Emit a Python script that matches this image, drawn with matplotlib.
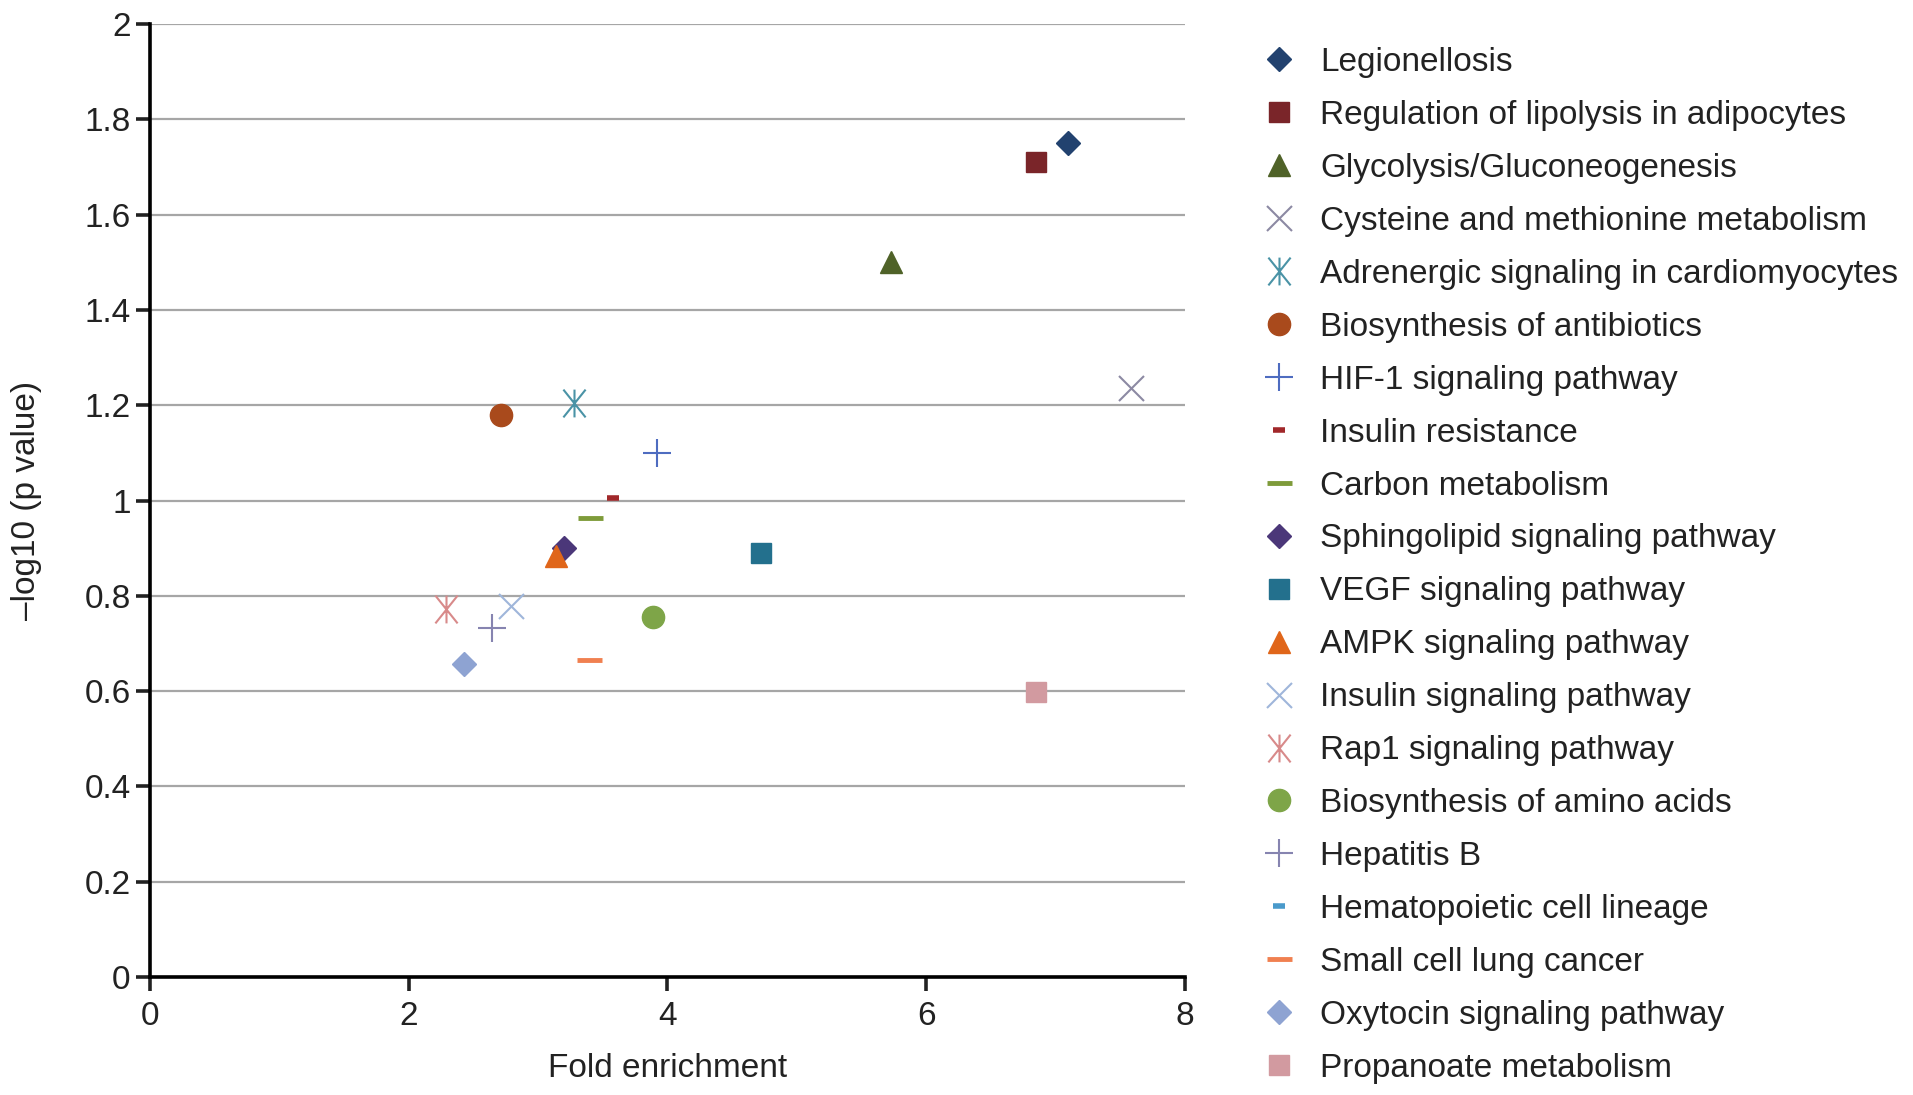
import numpy as np
import matplotlib
matplotlib.use("Agg")
import matplotlib.pyplot as plt
from matplotlib.path import Path
from matplotlib.ticker import FuncFormatter

plt.rcParams['font.family'] = ['Liberation Sans', 'DejaVu Sans']

# pathway names, in legend order
pathways = [
    "Legionellosis",
    "Regulation of lipolysis in adipocytes",
    "Glycolysis/Gluconeogenesis",
    "Cysteine and methionine metabolism",
    "Adrenergic signaling in cardiomyocytes",
    "Biosynthesis of antibiotics",
    "HIF-1 signaling pathway",
    "Insulin resistance",
    "Carbon metabolism",
    "Sphingolipid signaling pathway",
    "VEGF signaling pathway",
    "AMPK signaling pathway",
    "Insulin signaling pathway",
    "Rap1 signaling pathway",
    "Biosynthesis of amino acids",
    "Hepatitis B",
    "Hematopoietic cell lineage",
    "Small cell lung cancer",
    "Oxytocin signaling pathway",
    "Propanoate metabolism",
]
fold_enrichment = [7.10, 6.85, 5.73, 7.58, 3.28, 2.71, 3.92, 3.58, 3.40, 3.20,
                   4.72, 3.14, 2.79, 2.29, 3.89, 2.64, 2.43, 3.39, 2.43, 6.85]
neg_log_p = [1.75, 1.71, 1.50, 1.237, 1.204, 1.18, 1.10, 1.006, 0.963, 0.90,
             0.89, 0.883, 0.778, 0.773, 0.755, 0.732, 0.656, 0.666, 0.656, 0.599]

# x with a vertical stroke, like the office "asterisk" marker
asterisk = Path([(-0.8, -1), (0.8, 1), (-0.8, 1), (0.8, -1), (0, -1), (0, 1)],
                [Path.MOVETO, Path.LINETO] * 3)

# (marker, colour, size, edge width, filled)
styles = [
    ("D", "#22426f", 12, 1, True),
    ("s", "#7a2529", 15, 1, True),
    ("^", "#4f6228", 16, 1, True),
    ("x", "#8c89a3", 18, 1.5, False),
    (asterisk, "#4a93a6", 20, 1.5, False),
    ("o", "#a94a1c", 16, 1, True),
    ("+", "#4e6cc0", 20, 1.5, False),
    ("_", "#a1282a", 9, 4, False),
    ("_", "#7e9b3a", 18, 3.5, False),
    ("D", "#4b3779", 12, 1, True),
    ("s", "#23708d", 15, 1, True),
    ("^", "#e0661a", 16, 1, True),
    ("x", "#9fb6da", 18, 1.5, False),
    (asterisk, "#d88a8a", 20, 1.5, False),
    ("o", "#7ea548", 16, 1, True),
    ("+", "#8684b0", 20, 1.5, False),
    ("_", "#4a9acb", 9, 4, False),
    ("_", "#f08050", 18, 3.5, False),
    ("D", "#8ea3d2", 12, 1, True),
    ("s", "#d29aa0", 15, 1, True),
]

fig = plt.figure(figsize=(19.13, 10.95), dpi=100)
ax = fig.add_axes([0.0784, 0.1078, 0.5410, 0.8702])

for name, x, y, (m, c, ms, mew, filled) in zip(pathways, fold_enrichment, neg_log_p, styles):
    ax.plot([x], [y], linestyle="none", marker=m, markersize=ms,
            markeredgewidth=mew, color=c,
            markerfacecolor=c if filled else "none", markeredgecolor=c,
            label=name, zorder=3, clip_on=False)

ax.set_xlim(0, 8)
ax.set_ylim(0, 2)
ax.set_xticks(np.arange(0, 9, 2))
ax.set_yticks(np.arange(0, 2.01, 0.2))
ax.yaxis.set_major_formatter(FuncFormatter(lambda v, p: "%g" % round(v, 1)))
ax.grid(axis="y", color="#a6a6a6", linewidth=1.6, zorder=0)
ax.set_axisbelow(True)

for s in ["top", "right"]:
    ax.spines[s].set_visible(False)
for s in ["left", "bottom"]:
    ax.spines[s].set_linewidth(2.6)
ax.tick_params(axis="both", labelsize=24, width=2.6, length=10, colors="#222222")
ax.tick_params(axis="x", pad=7)
ax.tick_params(axis="y", pad=4)

ax.set_xlabel("Fold enrichment", fontsize=24, color="#222222")
ax.set_ylabel("\u2013log10 (p value)", fontsize=24, color="#222222")
ax.xaxis.set_label_coords(0.5, -0.08)
ax.yaxis.set_label_coords(-0.104, 0.5)

leg = fig.legend(loc="upper left", bbox_to_anchor=(0.660, 0.957), frameon=False,
                 fontsize=24, handlelength=1.0, handletextpad=0.73, labelspacing=0.658,
                 borderpad=0, borderaxespad=0, numpoints=1)
for t in leg.get_texts():
    t.set_color("#222222")

fig.savefig("out.png", dpi=100)
